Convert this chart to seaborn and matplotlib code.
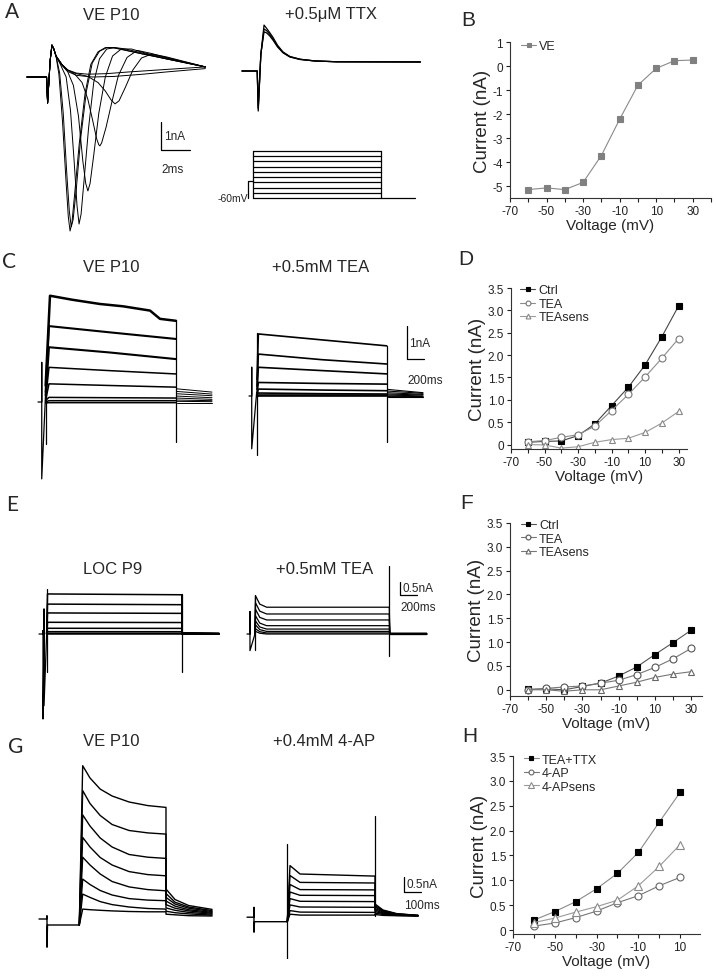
import numpy as np
import pandas as pd
import seaborn as sns
import matplotlib.pyplot as plt

sns.set_theme(style="ticks")
plt.rcParams['font.family'] = ['Liberation Sans', 'DejaVu Sans']
plt.rcParams['axes.unicode_minus'] = False

W, H = 716, 979

# ---------------- I-V data ----------------
volt = [-60, -50, -40, -30, -20, -10, 0, 10, 20, 30]
na_ve = [-5.15, -5.08, -5.15, -4.85, -3.73, -2.22, -0.8, -0.1, 0.22, 0.25]

d_ctrl = [0.05, 0.07, 0.08, 0.2, 0.46, 0.87, 1.28, 1.78, 2.41, 3.1]
d_tea = [0.06, 0.09, 0.16, 0.22, 0.41, 0.76, 1.12, 1.51, 1.93, 2.37]
d_sens = [0.0, -0.01, -0.08, -0.05, 0.05, 0.11, 0.14, 0.27, 0.48, 0.74]

f_ctrl = [0.01, 0.02, 0.0, 0.07, 0.14, 0.29, 0.48, 0.74, 0.99, 1.25]
f_tea = [0.0, 0.03, 0.06, 0.08, 0.14, 0.2, 0.32, 0.47, 0.65, 0.87]
f_sens = [0.0, 0.0, -0.03, 0.0, 0.0, 0.08, 0.16, 0.26, 0.33, 0.38]

volt_h = [-60, -50, -40, -30, -20, -10, 0, 10]
h_ctrl = [0.2, 0.37, 0.57, 0.83, 1.14, 1.56, 2.17, 2.77]
h_4ap = [0.08, 0.14, 0.25, 0.38, 0.55, 0.69, 0.89, 1.06]
h_sens = [0.15, 0.24, 0.36, 0.47, 0.6, 0.89, 1.28, 1.72]

# ---------------- current traces (keypoints, ms / nA) ----------------
# A: Na currents, VE P10
na_pre_t = [0, 1.35, 1.42, 1.6, 1.72, 1.85]
na_pre_i = [0, 0, -0.93, 0.6, 1.14, 1.0]
na_t = [
    [2.0, 2.2, 2.45, 2.7, 2.85, 2.97, 3.1, 3.3, 3.6, 4.0, 4.4, 4.9, 5.4, 5.9, 6.8, 8.0, 9.6, 12.3],
    [2.0, 2.25, 2.5, 2.75, 2.92, 3.05, 3.18, 3.4, 3.7, 4.1, 4.5, 5.0, 5.5, 6.0, 6.9, 8.0, 9.6, 12.3],
    [2.0, 2.3, 2.7, 3.0, 3.25, 3.45, 3.59, 3.73, 3.95, 4.25, 4.6, 5.0, 5.5, 6.1, 6.8, 8.0, 9.6, 12.3],
    [2.0, 2.4, 2.8, 3.2, 3.55, 3.85, 4.05, 4.2, 4.35, 4.6, 4.95, 5.4, 5.9, 6.5, 7.2, 8.2, 9.6, 12.3],
    [2.0, 2.4, 2.8, 3.3, 3.8, 4.2, 4.55, 4.8, 4.95, 5.03, 5.15, 5.45, 5.85, 6.3, 6.9, 7.6, 8.5, 9.6, 12.3],
    [2.0, 2.4, 2.8, 3.4, 4.2, 4.9, 5.4, 5.8, 6.07, 6.35, 6.8, 7.3, 7.9, 8.6, 9.6, 12.3],
    [2.0, 2.4, 2.8, 3.4, 4.2, 5.5, 7.0, 9.6, 12.3],
    [2.0, 2.4, 2.8, 3.4, 4.5, 6.0, 8.0, 9.6, 12.3],
]
na_i = [
    [0.75, 0.1, -1.6, -3.8, -5.0, -5.5, -5.2, -4.1, -2.4, -0.6, 0.45, 0.9, 1.05, 1.05, 0.95, 0.82, 0.65, 0.36],
    [0.75, 0.15, -1.3, -3.5, -4.8, -5.35, -5.1, -4.0, -2.2, -0.5, 0.5, 0.92, 1.05, 1.05, 0.95, 0.82, 0.65, 0.36],
    [0.75, 0.45, 0.0, -1.2, -3.0, -4.6, -5.25, -4.9, -3.6, -1.8, -0.2, 0.65, 1.0, 1.05, 1.0, 0.85, 0.65, 0.36],
    [0.75, 0.45, 0.2, -0.3, -1.4, -3.0, -3.8, -4.07, -3.8, -2.8, -1.3, 0.0, 0.75, 1.0, 1.0, 0.85, 0.68, 0.36],
    [0.75, 0.45, 0.25, 0.1, -0.2, -0.8, -1.6, -2.2, -2.42, -2.46, -2.35, -1.8, -0.9, 0.05, 0.7, 0.95, 0.85, 0.7, 0.36],
    [0.75, 0.45, 0.25, 0.12, 0.02, -0.2, -0.5, -0.82, -0.96, -0.85, -0.35, 0.25, 0.68, 0.82, 0.72, 0.36],
    [0.75, 0.45, 0.25, 0.14, 0.1, 0.12, 0.18, 0.27, 0.36],
    [0.75, 0.42, 0.2, 0.06, 0.0, 0.02, 0.1, 0.18, 0.3],
]
# A: + TTX
ttx_t = [0, 1.05, 1.12, 1.3, 1.52, 1.7, 1.9, 2.14, 2.45, 2.83, 3.3, 4.0, 5.0, 6.5, 12.3]
ttx_i = [
    [0, 0, -1.43, 0.6, 1.64, 1.52, 1.38, 1.2, 0.92, 0.68, 0.52, 0.42, 0.36, 0.33, 0.32],
    [0, 0, -1.35, 0.6, 1.5, 1.44, 1.32, 1.14, 0.88, 0.66, 0.51, 0.42, 0.36, 0.33, 0.32],
    [0, 0, -1.3, 0.6, 1.4, 1.36, 1.26, 1.1, 0.86, 0.65, 0.5, 0.41, 0.36, 0.33, 0.33],
]
# A: voltage protocol (mV)
hold_mv = -60
step_mv = [-50, -40, -30, -20, -10, 0, 10, 20, 30]

# C: K currents VE P10 (ms, nA)
c_top_t = [90, 141, 400, 729, 1000, 1318, 1435, 1624]
c_top_i = [0.5, 3.22, 3.1, 2.97, 2.9, 2.77, 2.52, 2.46]
c_t = [90, 129, 847, 1624]
c_i = [[0.3, 2.3, 2.11, 1.91], [0.2, 1.66, 1.5, 1.3], [0.1, 1.05, 0.95, 0.85],
       [0.05, 0.55, 0.5, 0.45], [0.05, 0.14, 0.13, 0.12], [0.0, 0.04, 0.04, 0.04],
       [-0.03, -0.02, -0.02, -0.02]]
c_tail_t = [1630, 2047]
c_tail_i = [[0.4, 0.3], [0.32, 0.24], [0.25, 0.19], [0.18, 0.13], [0.12, 0.08],
            [0.06, 0.04], [0.02, 0.01], [-0.02, -0.02]]
# C: + TEA
ct_t = [94, 110, 860, 1620]
ct_i = [[0.5, 1.88, 1.7, 1.52], [0.3, 1.27, 1.1, 0.97], [0.2, 0.87, 0.77, 0.67],
        [0.1, 0.41, 0.38, 0.36], [0.05, 0.21, 0.18, 0.16], [0.03, 0.09, 0.07, 0.06],
        [0.0, 0.03, 0.03, 0.03], [-0.02, 0.0, 0.0, 0.0]]
ct_tail_t = [1630, 2047]
ct_tail_i = [[0.2, 0.1], [0.15, 0.08], [0.1, 0.05], [0.06, 0.03], [0.03, 0.0],
             [0.0, -0.02], [-0.02, -0.03], [-0.04, -0.04]]

# E: LOC P9
e_lvl = [1.54, 1.15, 0.81, 0.45, 0.22, 0.09, 0.03, 0.0]
e_tail = [0.05, 0.04, 0.03, 0.02, 0.01, 0.0, 0.0, -0.01]
# E: + TEA
et_peak = [1.47, 1.2, 0.95, 0.7, 0.5, 0.35, 0.2, 0.1]
et_mid = [1.15, 0.88, 0.64, 0.42, 0.27, 0.17, 0.09, 0.03]
et_lvl = [1.03, 0.77, 0.54, 0.32, 0.19, 0.1, 0.04, 0.0]
et_tail = [0.03, 0.02, 0.01, 0.0, 0.0, -0.01, -0.01, -0.02]

# G: A-type currents VE P10
g_t = [237, 257, 300, 360, 430, 530, 640, 747]
g_i = [[5.11, 4.7, 4.33, 4.1, 3.9, 3.78, 3.72], [4.28, 3.85, 3.45, 3.15, 2.95, 2.87, 2.83],
       [3.47, 3.1, 2.7, 2.4, 2.15, 2.06, 2.02], [2.72, 2.4, 2.05, 1.8, 1.58, 1.48, 1.44],
       [2.06, 1.8, 1.5, 1.25, 1.07, 0.98, 0.94], [1.33, 1.15, 0.95, 0.8, 0.68, 0.63, 0.61],
       [0.83, 0.72, 0.58, 0.48, 0.4, 0.35, 0.33], [0.33, 0.31, 0.29, 0.27, 0.25, 0.24, 0.24]]
g_tail_t = [747, 800, 880, 1018]
g_tail_i = [[1.0, 0.65, 0.45, 0.32], [0.85, 0.56, 0.4, 0.28], [0.72, 0.5, 0.36, 0.25],
            [0.6, 0.43, 0.31, 0.22], [0.48, 0.36, 0.27, 0.19], [0.37, 0.29, 0.22, 0.16],
            [0.26, 0.21, 0.17, 0.13], [0.16, 0.14, 0.11, 0.1]]
# G: + 4-AP
ga_t = [237, 253, 312, 753]
ga_i = [[1.78, 1.5, 1.43], [1.45, 1.22, 1.2], [1.15, 0.98, 0.97], [0.9, 0.79, 0.78],
        [0.68, 0.59, 0.58], [0.47, 0.4, 0.39], [0.28, 0.23, 0.22], [0.16, 0.13, 0.13]]
ga_tail_t = [753, 800, 880, 1006]
ga_tail_i = [[0.5, 0.3, 0.18, 0.12], [0.45, 0.28, 0.17, 0.12], [0.4, 0.26, 0.16, 0.12],
             [0.35, 0.23, 0.15, 0.11], [0.3, 0.2, 0.14, 0.11], [0.25, 0.18, 0.13, 0.11],
             [0.2, 0.15, 0.12, 0.1], [0.15, 0.12, 0.11, 0.1]]

fig = plt.figure(figsize=(W / 100, H / 100), dpi=100)


def trace_axes(box, origin, sx, sy):
    # box in pixels (left, top, right, bottom); origin = pixel of data (0, 0)
    l, t, r, b = box
    ax = fig.add_axes([l / W, 1 - b / H, (r - l) / W, (b - t) / H])
    ax.set_xlim((l - origin[0]) / sx, (r - origin[0]) / sx)
    ax.set_ylim((origin[1] - b) / sy, (origin[1] - t) / sy)
    ax.axis('off')
    return ax


def tr(ax, x, y, lw=0.9):
    ax.plot(x, y, color='black', lw=lw, solid_joinstyle='round')


def scalebar(ax, x0, y0, dx, dy, lab_y, lab_x, fs=8.5):
    ax.plot([x0, x0, x0 + dx], [y0 + dy, y0, y0], color='black', lw=0.9)
    ax.text(x0 + dx * 0.12, y0 + dy / 2, lab_y, fontsize=fs, va='center', ha='left')
    ax.text(x0, y0 - dy * 0.45, lab_x, fontsize=fs, va='top', ha='left')


# ---- A left
ax = trace_axes((18, 30, 225, 245), (27, 78), 14.5, 28)
for t, i in zip(na_t, na_i):
    tr(ax, na_pre_t + t, na_pre_i + i, lw=0.7)
scalebar(ax, 9.24, -2.61, 2.0, 1.0, '1nA', '2ms')

# ---- A right (TTX)
ax = trace_axes((235, 15, 440, 125), (242, 72), 14.5, 28)
for i in ttx_i:
    tr(ax, ttx_t, i, lw=0.9)

# ---- A protocol
ax = trace_axes((190, 140, 440, 215), (253, 199 - 60 * 0.522), 0.0853, 0.522)
tr(ax, [-59, -59, 0], [hold_mv, -28, -28], lw=0.9)
tr(ax, [0, 0], [hold_mv, step_mv[-1]], lw=0.9)
for v in [hold_mv] + step_mv:
    tr(ax, [0, 1500], [v, v], lw=0.9)
tr(ax, [1500, 1500, 1900], [step_mv[-1], hold_mv, hold_mv], lw=0.9)
ax.text(-62, hold_mv, '-60mV', fontsize=7.5, ha='right', va='center')

# ---- C left
ax = trace_axes((30, 285, 240, 490), (38, 403), 0.085, 33)
tr(ax, [0, 44, 44, 44, 90], [0, 0, 1.2, -2.33, 0.3], lw=0.9)
tr(ax, [90, 90], [1.15, -1.27], lw=0.9)
tr(ax, c_top_t, c_top_i, lw=1.8)
for k, i in enumerate(c_i):
    tr(ax, c_t, i, lw=1.5 if k < 2 else 1.1)
tr(ax, [1624, 1624], [c_top_i[-1], -1.2], lw=0.9)
for i in c_tail_i:
    tr(ax, c_tail_t, i, lw=0.7)

# ---- C right
ax = trace_axes((240, 285, 460, 490), (249, 397), 0.085, 33)
tr(ax, [0, 32, 32, 32, 90], [0, 0, 0.87, -1.6, 0.1], lw=0.9)
tr(ax, [90, 90], [1.9, -1.8], lw=0.9)
for i in ct_i:
    tr(ax, ct_t, i, lw=1.2)
tr(ax, [1624, 1624], [ct_i[0][-1], -1.4], lw=0.9)
for i in ct_tail_i:
    tr(ax, ct_tail_t, i, lw=0.8)
scalebar(ax, 1859, 1.12, 200, 1.0, '1nA', '200ms')

# ---- E left
ax = trace_axes((30, 580, 240, 730), (39, 635), 0.085, 26)
tr(ax, [0, 47, 47, 47, 59, 59, 59, 90], [0, 0, 0.13, -3.27, 0, 0.96, -2.76, 0], lw=0.9)
tr(ax, [90, 90], [1.73, -1.47], lw=0.9)
for lv, tl in zip(e_lvl, e_tail):
    tr(ax, [90, 100, 1679, 1685, 2118], [0, lv, lv * 0.98, tl, tl * 0.5], lw=1.1)
tr(ax, [1679, 1679], [e_lvl[0], -1.47], lw=0.9)

# ---- E right
ax = trace_axes((240, 540, 460, 730), (247, 635), 0.085, 26)
tr(ax, [0, 35, 35, 35, 94], [0, 0, 0.86, -0.64, 0], lw=0.9)
tr(ax, [94, 94], [1.5, -0.6], lw=0.9)
for pk, md, lv, tl in zip(et_peak, et_mid, et_lvl, et_tail):
    tr(ax, [94, 100, 150, 231, 1674, 1680, 2114], [0, pk, md, lv, lv, tl, tl], lw=0.9)
tr(ax, [1674, 1674], [2.63, -0.83], lw=0.9)
scalebar(ax, (400 - 247) / 0.085, (635 - 596) / 26, 200, 0.5, '0.5nA', '200ms')

# ---- G left
ax = trace_axes((30, 750, 240, 960), (39, 920), 0.17, 30)
tr(ax, [0, 45, 47, 47, 50, 237], [0, 0, 0.11, -0.94, -0.2, -0.2], lw=1.0)
for i, tl in zip(g_i, g_tail_i):
    tr(ax, g_t + g_tail_t, [-0.2] + i + tl, lw=1.0)

# ---- G right
ax = trace_axes((240, 750, 460, 960), (247, 920), 0.17, 30)
tr(ax, [0, 40, 41, 41, 44, 237], [0.06, 0.06, 0.39, -0.44, -0.09, -0.09], lw=1.0)
tr(ax, [237, 237], [2.5, -1.33], lw=0.9)
for i, tl in zip(ga_i, ga_tail_i):
    tr(ax, ga_t + ga_tail_t, [-0.09] + i + tl, lw=1.0)
tr(ax, [753, 753], [3.44, 0.1], lw=0.9)
scalebar(ax, (404 - 247) / 0.17, (920 - 893) / 30, 100, 0.5, '0.5nA', '100ms')


# ---------------- I-V panels ----------------
def iv_axes(box, xlim, ylim, yticks, ylabels):
    l, t, r, b = box
    ax = fig.add_axes([l / W, 1 - b / H, (r - l) / W, (b - t) / H])
    ax.set_xlim(*xlim)
    ax.set_ylim(*ylim)
    xt = list(range(-70, int(xlim[1]) + 1, 10))
    ax.set_xticks(xt)
    ax.set_xticklabels([str(v) if (v + 70) % 20 == 0 else '' for v in xt])
    ax.set_yticks(yticks)
    ax.set_yticklabels(ylabels)
    ax.tick_params(labelsize=8.5, length=3, width=0.8, pad=2, colors='#222222')
    for s in ['left', 'bottom']:
        ax.spines[s].set_linewidth(0.8)
        ax.spines[s].set_color('#333333')
    sns.despine(ax=ax)
    ax.set_xlabel('Voltage (mV)', fontsize=11, labelpad=1)
    ax.set_ylabel('Current (nA)', fontsize=13.5, labelpad=1)
    return ax


def series(ax, x, y, label, lc, marker, mfc, mec, ms):
    sns.lineplot(x=x, y=y, ax=ax, color=lc, lw=0.8, marker=marker, markersize=ms,
                 markerfacecolor=mfc, markeredgecolor=mec, markeredgewidth=0.8,
                 label=label, sort=False, estimator=None)


def legend(ax, anchor):
    ax.legend(loc='upper left', bbox_to_anchor=anchor, frameon=False, fontsize=9,
              handlelength=1.2, handletextpad=0.25, labelspacing=0.12,
              borderpad=0.1, borderaxespad=0.0, markerscale=0.7)


k_ticks = [0, 0.5, 1, 1.5, 2, 2.5, 3, 3.5]
k_labels = ['0', '0.5', '1.0', '1.5', '2.0', '2.5', '3.0', '3.5']

ax = iv_axes((510, 43, 711, 199), (-70, 40), (-5.5, 1.0),
             [-5, -4, -3, -2, -1, 0, 1], ['-5', '-4', '-3', '-2', '-1', '0', '1'])
series(ax, volt, na_ve, 'VE', '#8a8a8a', 's', '#808080', '#808080', 5)
legend(ax, (0.05, 1.02))

ax = iv_axes((511, 289, 687, 450), (-70, 35), (-0.1, 3.5), k_ticks, k_labels)
series(ax, volt, d_ctrl, 'Ctrl', '#444444', 's', 'black', 'black', 5)
series(ax, volt, d_tea, 'TEA', '#8c8c8c', 'o', 'white', '#777777', 5)
series(ax, volt, d_sens, 'TEAsens', '#9a9a9a', '^', 'white', '#888888', 5)
legend(ax, (0.045, 1.03))

ax = iv_axes((510, 524, 702, 697), (-70, 36), (-0.13, 3.5), k_ticks, k_labels)
series(ax, volt, f_ctrl, 'Ctrl', '#555555', 's', 'black', 'black', 5)
series(ax, volt, f_tea, 'TEA', '#777777', 'o', 'white', '#555555', 5)
series(ax, volt, f_sens, 'TEAsens', '#777777', '^', 'white', '#666666', 5)
legend(ax, (0.05, 1.03))

ax = iv_axes((513, 757, 700, 935), (-70, 19.5), (-0.08, 3.5), k_ticks, k_labels)
series(ax, volt_h, h_ctrl, 'TEA+TTX', '#8a8a8a', 's', 'black', 'black', 5)
series(ax, volt_h, h_4ap, '4-AP', '#777777', 'o', 'white', '#666666', 5)
series(ax, volt_h, h_sens, '4-APsens', '#9a9a9a', '^', 'white', '#8a8a8a', 5.5)
legend(ax, (0.05, 1.02))

# ---------------- titles and panel letters ----------------
def ftext(x, y, s, size, ha='center', family=None):
    kw = {'family': family} if family else {}
    fig.text(x / W, 1 - y / H, s, fontsize=size, ha=ha, va='center', **kw)


for (x, y, s) in [(12, 12, 'A'), (9, 262, 'C'), (12, 505, 'E'), (16, 747, 'G')]:
    ftext(x, y, s, 15, family=['Lato', 'DejaVu Sans'])
for (x, y, s) in [(468, 20, 'B'), (466, 260, 'D'), (467, 504, 'F'), (470, 737, 'H')]:
    ftext(x, y, s, 15)

for (x, y, s) in [(111, 15, 'VE P10'), (331, 15, '+0.5μM TTX'),
                  (111, 268, 'VE P10'), (321, 268, '+0.5mM TEA'),
                  (113, 570, 'LOC P9'), (325, 570, '+0.5mM TEA'),
                  (111, 742, 'VE P10'), (324, 742, '+0.4mM 4-AP')]:
    ftext(x, y, s, 12)

fig.savefig('out.png', dpi=100)
